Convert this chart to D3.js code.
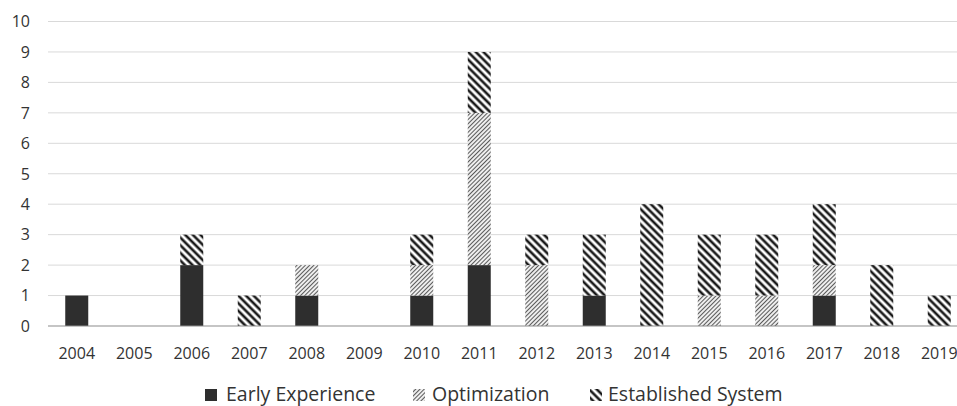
<!DOCTYPE html>
<html>
<head>
<meta charset="utf-8">
<script src="https://cdn.jsdelivr.net/npm/d3@7"></script>
<style>
  body { margin: 0; background: #fff; }
  svg { display: block; font-family: "Open Sans", sans-serif; }
</style>
</head>
<body>
<div id="chart"></div>
<script>
// data
var years = ['2004', '2005', '2006', '2007', '2008', '2009', '2010', '2011',
             '2012', '2013', '2014', '2015', '2016', '2017', '2018', '2019'];
var earlyExperience   = [1, 0, 2, 0, 1, 0, 1, 2, 0, 1, 0, 0, 0, 1, 0, 0];
var optimization      = [0, 0, 0, 0, 1, 0, 1, 5, 2, 0, 0, 1, 1, 1, 0, 0];
var establishedSystem = [0, 0, 1, 1, 0, 0, 1, 2, 1, 2, 4, 2, 2, 2, 2, 1];
var seriesNames = ['Early Experience', 'Optimization', 'Established System'];
var yTicks = [0, 1, 2, 3, 4, 5, 6, 7, 8, 9, 10];

var w = 957, h = 406;
var mLeft = 48, mRight = 968, mTop = 21.5, mBottom = 326;

var svg = d3.select('#chart').append('svg')
    .attr('width', w)
    .attr('height', h);

// patterns
var defs = svg.append('defs');
var pOpt = defs.append('pattern')
    .attr('id', 'pat-opt')
    .attr('patternUnits', 'userSpaceOnUse')
    .attr('width', 3).attr('height', 3)
    .attr('patternTransform', 'rotate(45)');
pOpt.append('rect').attr('width', 3).attr('height', 3).attr('fill', '#fff');
pOpt.append('line')
    .attr('x1', 1.5).attr('y1', 0).attr('x2', 1.5).attr('y2', 3)
    .attr('stroke', '#5a5a5a').attr('stroke-width', 1.2);

var pEst = defs.append('pattern')
    .attr('id', 'pat-est')
    .attr('patternUnits', 'userSpaceOnUse')
    .attr('width', 5.4).attr('height', 5.4)
    .attr('patternTransform', 'rotate(-45)');
pEst.append('rect').attr('width', 5.4).attr('height', 5.4).attr('fill', '#fff');
pEst.append('line')
    .attr('x1', 2.7).attr('y1', 0).attr('x2', 2.7).attr('y2', 5.4)
    .attr('stroke', '#1a1a1a').attr('stroke-width', 2.6);

var fills = ['#2e2e2e', 'url(#pat-opt)', 'url(#pat-est)'];

var xscale = d3.scaleBand()
    .domain(years)
    .range([mLeft, mRight])
    .paddingInner(0.6)
    .paddingOuter(0.3);

var yscale = d3.scaleLinear()
    .domain([0, 10])
    .range([mBottom, mTop]);

// gridlines
svg.append('g')
    .selectAll('line')
    .data(yTicks.slice(1))
    .enter()
    .append('line')
    .attr('x1', mLeft).attr('x2', w)
    .attr('y1', function (d) { return yscale(d); })
    .attr('y2', function (d) { return yscale(d); })
    .attr('stroke', '#d9d9d9')
    .attr('stroke-width', 1);

// stacked bars
var table = years.map(function (y, i) {
    return {year: y, e: earlyExperience[i], o: optimization[i], s: establishedSystem[i]};
});
var stacked = d3.stack().keys(['e', 'o', 's'])(table);

svg.append('g')
    .selectAll('g')
    .data(stacked)
    .enter()
    .append('g')
    .attr('fill', function (d, i) { return fills[i]; })
    .selectAll('rect')
    .data(function (d) { return d; })
    .enter()
    .append('rect')
    .attr('x', function (d) { return xscale(d.data.year); })
    .attr('y', function (d) { return yscale(d[1]); })
    .attr('width', xscale.bandwidth())
    .attr('height', function (d) { return yscale(d[0]) - yscale(d[1]); });

// baseline
svg.append('line')
    .attr('x1', mLeft).attr('x2', w)
    .attr('y1', mBottom).attr('y2', mBottom)
    .attr('stroke', '#8c8c8c')
    .attr('stroke-width', 1.2);

// y labels
svg.append('g')
    .selectAll('text')
    .data(yTicks)
    .enter()
    .append('text')
    .text(function (d) { return d; })
    .attr('x', 30)
    .attr('y', function (d) { return yscale(d); })
    .attr('dy', '0.36em')
    .attr('text-anchor', 'end')
    .attr('font-size', '16px')
    .attr('fill', '#333');

// x labels
svg.append('g')
    .selectAll('text')
    .data(years)
    .enter()
    .append('text')
    .text(function (d) { return d; })
    .attr('x', function (d) { return xscale(d) + xscale.bandwidth() / 2; })
    .attr('y', 353)
    .attr('dy', '0.36em')
    .attr('text-anchor', 'middle')
    .attr('font-size', '16px')
    .attr('fill', '#333');

// legend
var legendX = [205, 413, 590];
var leg = svg.append('g')
    .selectAll('g')
    .data(seriesNames)
    .enter()
    .append('g')
    .attr('transform', function (d, i) { return 'translate(' + legendX[i] + ',394)'; });
leg.append('rect')
    .attr('x', 0).attr('y', -5)
    .attr('width', 12).attr('height', 12)
    .attr('fill', function (d, i) { return fills[i]; });
leg.append('text')
    .text(function (d) { return d; })
    .attr('x', function (d, i) { return [21, 19, 18][i]; })
    .attr('dy', '0.36em')
    .attr('font-size', '19.5px')
    .attr('fill', '#333');
</script>
</body>
</html>
